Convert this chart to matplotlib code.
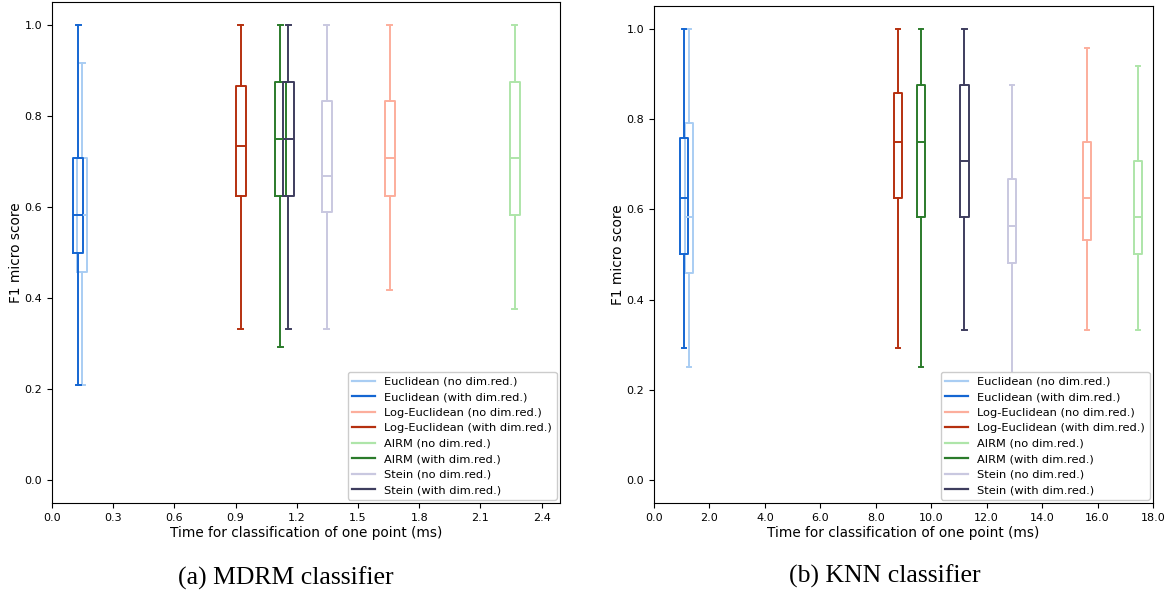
import matplotlib
matplotlib.use("Agg")
import matplotlib.pyplot as plt

# ---------------- data ----------------
labels = ["Euclidean (no dim.red.)", "Euclidean (with dim.red.)",
          "Log-Euclidean (no dim.red.)", "Log-Euclidean (with dim.red.)",
          "AIRM (no dim.red.)", "AIRM (with dim.red.)",
          "Stein (no dim.red.)", "Stein (with dim.red.)"]
colors = ["#a9cdf3", "#1466d2", "#fcae9c", "#b5300f",
          "#aee5a9", "#2b7b2b", "#c9c8e0", "#3e3d5e"]

# MDRM classifier: time (ms) and F1 box statistics
mdrm_time = [0.149, 0.129, 1.656, 0.925, 2.269, 1.120, 1.346, 1.159]
mdrm_whislo = [0.208, 0.208, 0.417, 0.333, 0.375, 0.292, 0.333, 0.333]
mdrm_q1 = [0.458, 0.500, 0.625, 0.625, 0.583, 0.625, 0.589, 0.625]
mdrm_med = [0.583, 0.583, 0.708, 0.733, 0.708, 0.750, 0.667, 0.750]
mdrm_q3 = [0.708, 0.708, 0.833, 0.865, 0.875, 0.875, 0.833, 0.875]
mdrm_whishi = [0.917, 1.000, 1.000, 1.000, 1.000, 1.000, 1.000, 1.000]

# KNN classifier
knn_time = [1.27, 1.08, 15.62, 8.81, 17.45, 9.64, 12.91, 11.20]
knn_whislo = [0.250, 0.292, 0.333, 0.292, 0.333, 0.250, 0.125, 0.333]
knn_q1 = [0.458, 0.500, 0.533, 0.625, 0.500, 0.583, 0.482, 0.583]
knn_med = [0.583, 0.625, 0.625, 0.750, 0.583, 0.750, 0.562, 0.708]
knn_q3 = [0.792, 0.757, 0.750, 0.858, 0.708, 0.875, 0.667, 0.875]
knn_whishi = [1.000, 1.000, 0.958, 1.000, 0.917, 1.000, 0.875, 1.000]

mdrm_ticks = [0.0, 0.3, 0.6, 0.9, 1.2, 1.5, 1.8, 2.1, 2.4]
knn_ticks = [0.0, 2.0, 4.0, 6.0, 8.0, 10.0, 12.0, 14.0, 16.0, 18.0]
y_ticks = [0.0, 0.2, 0.4, 0.6, 0.8, 1.0]

fig = plt.figure(figsize=(11.75, 5.99), dpi=100)
ax1 = fig.add_axes([52/1175, 1-503/599, 508/1175, 501/599])
ax2 = fig.add_axes([654/1175, 1-503/599, 499/1175, 497/599])


def draw(ax, times, lo, q1, med, q3, hi, width, ticks, xlim):
    order = [0, 2, 4, 6, 1, 3, 5, 7]
    for i in order:
        st = dict(whislo=lo[i], q1=q1[i], med=med[i], q3=q3[i], whishi=hi[i], fliers=[])
        c = colors[i]
        ax.bxp([st], positions=[times[i]], widths=width, showfliers=False,
               manage_ticks=False,
               boxprops=dict(color=c, linewidth=1.4),
               medianprops=dict(color=c, linewidth=1.4),
               whiskerprops=dict(color=c, linewidth=1.4),
               capprops=dict(color=c, linewidth=1.4))
    handles = [plt.Line2D([], [], color=colors[i], linewidth=1.6) for i in range(8)]
    ax.legend(handles, labels, loc="lower right", fontsize=8.2, framealpha=1,
              handlelength=2.0, borderaxespad=0.3, labelspacing=0.48)
    ax.set_xlim(*xlim)
    ax.set_ylim(-0.05, 1.05)
    ax.set_xticks(ticks)
    ax.set_xticklabels([f"{t:.1f}" for t in ticks])
    ax.set_yticks(y_ticks)
    ax.set_yticklabels([f"{t:.1f}" for t in y_ticks])
    ax.tick_params(labelsize=8)
    ax.set_xlabel("Time for classification of one point (ms)", fontsize=9.8, labelpad=2)
    ax.set_ylabel("F1 micro score", fontsize=9.8, labelpad=1)


draw(ax1, mdrm_time, mdrm_whislo, mdrm_q1, mdrm_med, mdrm_q3, mdrm_whishi,
     0.05, mdrm_ticks, (0, 2.49))
draw(ax2, knn_time, knn_whislo, knn_q1, knn_med, knn_q3, knn_whishi,
     0.30, knn_ticks, (0, 18))

fig.text(286/1175, 1-578/599, "(a) MDRM classifier", ha="center", va="center",
         fontsize=18.5, family="Liberation Serif")
fig.text(885/1175, 1-576/599, "(b) KNN classifier", ha="center", va="center",
         fontsize=18.5, family="Liberation Serif")

fig.savefig("out.png", dpi=100)
